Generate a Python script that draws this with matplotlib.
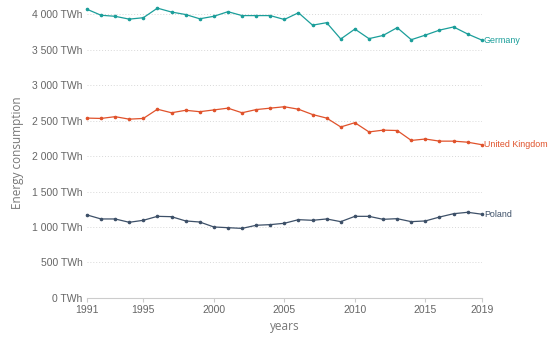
import matplotlib.pyplot as plt
from matplotlib.ticker import FuncFormatter

# --------------------
# Data
# --------------------
years = list(range(1991, 2020))

germany = [4070, 3985, 3970, 3930, 3950, 4085, 4030, 3995, 3935, 3970,
           4035, 3980, 3980, 3980, 3925, 4020, 3845, 3880, 3650, 3790,
           3655, 3700, 3810, 3640, 3705, 3775, 3820, 3720, 3635]

united_kingdom = [2535, 2530, 2555, 2520, 2530, 2660, 2610, 2645, 2625, 2650,
                  2675, 2610, 2655, 2675, 2695, 2660, 2585, 2535, 2410, 2470,
                  2340, 2365, 2360, 2220, 2240, 2210, 2210, 2195, 2160]

poland = [1170, 1113, 1113, 1066, 1094, 1150, 1145, 1085, 1070, 1000,
          990, 980, 1024, 1033, 1052, 1103, 1094, 1113, 1075, 1150,
          1150, 1108, 1117, 1075, 1085, 1140, 1187, 1207, 1180]

series = [
    ("Germany", germany, "#1b9e9a"),
    ("United Kingdom", united_kingdom, "#e0522b"),
    ("Poland", poland, "#3d5068"),
]

x_ticks = [1991, 1995, 2000, 2005, 2010, 2015, 2019]
y_ticks = [0, 500, 1000, 1500, 2000, 2500, 3000, 3500, 4000]

# --------------------
# Plot
# --------------------
fig = plt.figure(figsize=(5.5, 3.37), dpi=100)
ax = fig.add_axes([0.158, 0.116, 0.718, 0.863])

for name, vals, color in series:
    ax.plot(years, vals, color=color, lw=0.9, marker="o", ms=1.6, clip_on=False, zorder=3)
    ax.text(years[-1] + 0.15, vals[-1], name, color=color, fontsize=6.4,
            family="Liberation Sans", va="center", ha="left")

ax.set_xlim(1991, 2019)
ax.set_ylim(0, 4100)
ax.set_xticks(x_ticks)
ax.set_yticks(y_ticks)
ax.yaxis.set_major_formatter(FuncFormatter(lambda v, p: f"{int(v):,} TWh".replace(",", " ")))

for spine in ["top", "right", "left"]:
    ax.spines[spine].set_visible(False)
ax.spines["bottom"].set_color("#cccccc")
ax.spines["bottom"].set_linewidth(0.8)

ax.tick_params(axis="y", length=0, pad=3, labelsize=7.5, labelcolor="#666666")
ax.tick_params(axis="x", length=3, color="#cccccc", pad=2, labelsize=7.5, labelcolor="#666666")
for lbl in ax.get_xticklabels() + ax.get_yticklabels():
    lbl.set_family("Liberation Sans")

for y in y_ticks[1:]:
    ax.axhline(y, color="#d8d8d8", lw=0.7, ls=(0, (1, 2)), zorder=1)

ax.set_ylabel("Energy consumption", fontsize=8.5, color="#777777", family="Open Sans", labelpad=6)
ax.set_xlabel("years", fontsize=8.5, color="#777777", family="Open Sans", labelpad=4)

fig.savefig("out.png", dpi=100)
